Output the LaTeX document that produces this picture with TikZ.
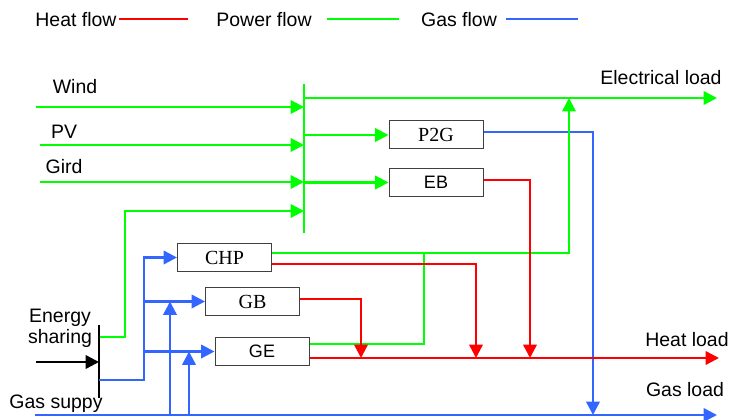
\documentclass[tikz,border=0pt]{standalone}
\usepackage{fontspec}
\setmainfont{Liberation Sans}
\newfontfamily\boxserif{Liberation Serif}
\usetikzlibrary{arrows.meta}
\definecolor{pgreen}{RGB}{0,255,0}
\definecolor{hred}{RGB}{255,0,0}
\definecolor{gblue}{RGB}{51,102,255}
\begin{document}
\begin{tikzpicture}[x=0.75pt,y=-0.75pt,
  flow/.style={line width=1.8pt},
  power/.style={flow,draw=pgreen},
  heat/.style={flow,draw=hred},
  gas/.style={flow,draw=gblue},
  share/.style={flow,draw=black},
  tip/.style={-{Triangle[length=10pt,width=10pt]}},
  dev/.style={draw=black!75,line width=0.75pt,minimum width=70.5pt,minimum height=21pt,inner sep=0pt},
  sdev/.style={dev,font=\boxserif\fontsize{15}{17}\selectfont},
  adev/.style={dev,font=\fontsize{13.5}{16}\selectfont},
  lbl/.style={inner sep=0pt,font=\fontsize{14.6}{15.75}\selectfont},
]
\useasboundingbox (0,0) rectangle (732,420);

% legend
\node[lbl] (lgH) at (76,20) {Heat flow};
\node[lbl] (lgP) at (264,20) {Power flow};
\node[lbl] (lgG) at (459,20) {Gas flow};
\coordinate (lhA) at (119,19); \coordinate (lhB) at (188,19);
\coordinate (lpA) at (327,19); \coordinate (lpB) at (399,19);
\coordinate (lgA) at (506,19); \coordinate (lgB) at (578,19);
\draw[heat] (lhA) -- (lhB);
\draw[power] (lpA) -- (lpB);
\draw[gas] (lgA) -- (lgB);

% devices
\node[sdev] (p2g) at (436,135) {P2G};
\node[adev] (eb) at (436,182.5) {EB};
\node[sdev] (chp) at (224.5,257.5) {CHP};
\node[sdev] (gb) at (252.5,301.5) {GB};
\node[adev] (ge) at (262,351.5) {GE};

% labels
\node[lbl] (wind) at (75,87) {Wind};
\node[lbl] (pv) at (64,132) {PV};
\node[lbl] (gird) at (64,167) {Gird};
\node[lbl] (eload) at (661,78) {Electrical load};
\node[lbl] (hload) at (687,340) {Heat load};
\node[lbl] (gload) at (685,390) {Gas load};
\node[lbl] (gsup) at (56,404) {Gas suppy};
\node[lbl,align=center] (eshare) at (60,328) {Energy\\sharing};

% coordinates
\coordinate (bustop) at (304,84); \coordinate (busbot) at (304,233);
\coordinate (windS) at (36,107); \coordinate (pvS) at (40,145); \coordinate (gridS) at (40,182);
\coordinate (elecW) at (304,98); \coordinate (elecE) at (717,98);
\coordinate (esTop) at (99,325); \coordinate (esBot) at (99,398);
\coordinate (esIn) at (36,362);
\coordinate (esG) at (99,337); \coordinate (esGup) at (125,211);
\coordinate (esB) at (99,380); \coordinate (gx) at (144,0);
\coordinate (gasS) at (35,415); \coordinate (gasE) at (717,415);
\coordinate (gv1) at (170,415); \coordinate (gv2) at (189,415);
\coordinate (heatE) at (719,358);
\coordinate (chpG) at (569,98); \coordinate (geG) at (424,253);
\coordinate (chpR) at (476,358); \coordinate (gbR) at (361,358);
\coordinate (ebR) at (530,358); \coordinate (p2gB) at (593,415);

% power bus
\draw[power] (bustop) -- (busbot);
\draw[power,tip] (windS) -- (windS -| bustop);
\draw[power,tip] (pvS) -- (pvS -| bustop);
\draw[power,tip] (gridS) -- (gridS -| bustop);
\draw[power,tip] (esG) -| (esGup) -- (esGup -| bustop);
\draw[power,tip] (elecW) -- (elecE);
\draw[power,tip] (bustop |- p2g.west) -- (p2g.west);
\draw[power,tip] (bustop |- eb.west) -- (eb.west);

% energy sharing
\draw[share] (esTop) -- (esBot);
\draw[share,tip] (esIn) -- (esIn -| esTop);

% gas
\draw[gas,tip] (gasS) -- (gasE);
\draw[gas,tip] (esB) -| (chp.west -| gx) -- (chp.west);
\draw[gas,tip] (gx |- gb.west) -- (gb.west);
\draw[gas,tip] (gx |- ge.west) -- (ge.west);
\draw[gas,tip] (gv1) -- (gv1 |- gb.west);
\draw[gas,tip] (gv2) -- (gv2 |- ge.west);
\draw[gas,tip] (p2g.east |- 0,132) -| (p2gB);

% outputs
\draw[power] (ge.east |- 0,344) -| (geG);
\draw[power,tip] (chp.east |- 0,253) -| (chpG);
\draw[heat,tip] (chp.east |- 0,264) -| (chpR);
\draw[heat,tip] (gb.east |- 0,299) -| (gbR);
\draw[heat,tip] (eb.east |- 0,180) -| (ebR);
\draw[heat,tip] (ge.east |- 0,358) -- (heatE);
\end{tikzpicture}
\end{document}
